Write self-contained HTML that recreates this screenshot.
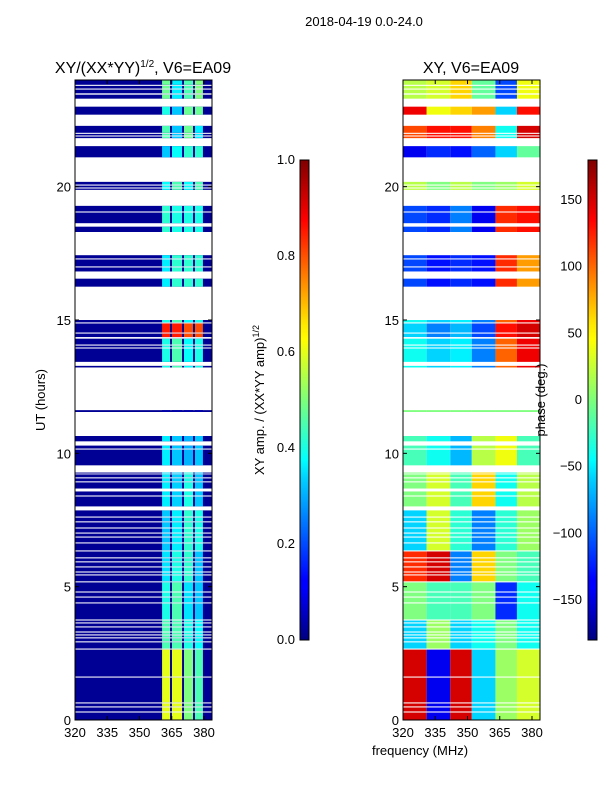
<!DOCTYPE html>
<html><head><meta charset="utf-8"><style>
body{margin:0;background:#fff;}
svg text{font-family:"Liberation Sans","DejaVu Sans",sans-serif;fill:#000;}
</style></head><body>
<svg id="fig" width="600" height="800" xmlns="http://www.w3.org/2000/svg">
<defs>
<linearGradient id="jet" x1="0" y1="1" x2="0" y2="0">
<stop offset="0" stop-color="#00007f"/><stop offset="0.11" stop-color="#0000ff"/><stop offset="0.125" stop-color="#0000ff"/>
<stop offset="0.34" stop-color="#00d4ff"/><stop offset="0.375" stop-color="#0ff" stop-opacity="1"/>
<stop offset="0.5" stop-color="#7dff7a"/><stop offset="0.625" stop-color="#ff0"/>
<stop offset="0.66" stop-color="#ffe600"/><stop offset="0.875" stop-color="#ff0000"/><stop offset="1" stop-color="#7f0000"/>
</linearGradient>
</defs>
<text x="364" y="26" font-size="13" text-anchor="middle">2018-04-19 0.0-24.0</text>
<text x="143" y="73" font-size="16" text-anchor="middle">XY/(XX*YY)<tspan font-size="10" dy="-6">1/2</tspan><tspan dy="6">, V6=EA09</tspan></text>
<text x="471" y="73" font-size="16" text-anchor="middle">XY, V6=EA09</text>
<g id="left"></g>
<g id="right"></g>
<rect x="75" y="80" width="137" height="640" fill="none" stroke="#000" stroke-width="1"/>
<rect x="403" y="80" width="137" height="640" fill="none" stroke="#000" stroke-width="1"/>
<g id="ticks"></g>
<text x="45" y="400" font-size="13" text-anchor="middle" transform="rotate(-90 45 400)">UT (hours)</text>
<text x="420" y="755" font-size="13" text-anchor="middle">frequency (MHz)</text>
<rect x="300" y="160" width="9" height="480" fill="url(#jet)" stroke="#000" stroke-width="1"/>
<rect x="588" y="160" width="9" height="480" fill="url(#jet)" stroke="#000" stroke-width="1"/>
<text x="264" y="400" font-size="13" text-anchor="middle" transform="rotate(-90 264 400)">XY amp. / (XX*YY amp)<tspan font-size="9" dy="-5">1/2</tspan></text>
<text x="545" y="400" font-size="13" text-anchor="middle" transform="rotate(-90 545 400)">phase (deg.)</text>
</svg>
<script>
const segStart=[0,0.32,0.51,0.66,1.63,2.68,2.95,3.1,3.21,3.32,3.51,3.66,3.77,4.41,4.63,4.82,5.2,5.46,5.57,5.76,5.95,6.1,6.36,6.66,6.88,7.03,7.22,7.45,7.63,8.01,8.42,8.68,8.95,9.1,9.25,9.55,10.18,10.45,11.55,13.22,13.43,13.97,14.08,14.36,14.53,14.91,16.25,16.82,17.01,17.31,18.3,18.63,19.07,19.88,19.97,20.08,21.1,21.82,21.92,22.02,22.7,23.3,23.5,23.68,23.82];
const segEnd=[0.28,0.47,0.62,1.59,2.64,2.91,3.06,3.17,3.28,3.47,3.62,3.73,4.37,4.59,4.78,5.16,5.42,5.53,5.72,5.91,6.06,6.32,6.62,6.84,6.99,7.18,7.41,7.59,7.86,8.38,8.57,8.91,9.06,9.21,9.28,10.14,10.29,10.65,11.62,13.28,13.93,14.04,14.3,14.49,14.87,15.0,16.55,16.97,17.27,17.43,18.5,19.03,19.28,19.93,20.04,20.18,21.52,21.88,21.98,22.28,23.0,23.45,23.64,23.78,24.0];
const segGroup=[0,0,0,0,0,1,1,1,1,1,1,1,2,2,2,2,3,3,3,3,3,3,4,4,4,4,4,4,4,5,5,5,5,5,5,6,6,6,7,8,8,8,8,9,9,8,10,10,10,10,11,11,11,12,12,12,13,14,14,14,15,16,16,16,16];
// left panel: amplitude in the four bright columns, per group
const ampCols=[[0.6,0.6,0.5,0.45],[0.45,0.45,0.4,0.38],[0.4,0.45,0.35,0.32],[0.35,0.4,0.42,0.32],[0.32,0.36,0.42,0.4],[0.36,0.33,0.4,0.32],[0.36,0.32,0.3,0.32],[0.04,0.04,0.04,0.04],[0.4,0.45,0.38,0.4],[0.85,0.85,0.8,0.8],[0.36,0.42,0.42,0.42],[0.42,0.4,0.4,0.4],[0.38,0.45,0.38,0.45],[0.32,0.38,0.42,0.42],[0.45,0.32,0.48,0.36],[0.4,0.32,0.48,0.48],[0.48,0.36,0.45,0.5]];
const ampLow=0.02;
const colLo=[360.5,365.1,370.7,375.8];
const colHi=[364.2,369.8,374.9,379.5];
// right panel: phase per frequency band, per group
const bandEdges=[320,331,342,352,363,373,384];
const phaseBands=[[150,-140,150,-60,10,30],[-60,10,-60,-40,0,-40],[0,-20,-20,0,-120,-40],[120,150,-90,60,0,-20],[-60,30,-30,-90,-30,10],[0,30,-20,60,-40,20],[-20,-40,-70,20,40,-20],[0,0,0,0,0,0],[-40,-60,-50,-90,100,140],[-60,-90,-70,-110,130,150],[-110,-130,-120,-130,120,80],[-110,-120,-90,-140,120,130],[20,0,20,0,10,30],[-140,-120,-130,-100,-60,-10],[110,130,130,90,-40,150],[140,40,60,80,-60,130],[20,30,60,-10,-110,40]];
const yTicks=[0,5,10,15,20];
const xTicks=[320,335,350,365,380];
const ampTicks=[0.0,0.2,0.4,0.6,0.8,1.0];
const phaseTicks=[-150,-100,-50,0,50,100,150];

const NS='http://www.w3.org/2000/svg';
function jet(v){v=Math.max(0,Math.min(1,v));
 const r=Math.min(4*v-1.5,-4*v+4.5),g=Math.min(4*v-0.5,-4*v+3.5),b=Math.min(4*v+0.5,-4*v+2.5);
 const c=x=>Math.round(255*Math.max(0,Math.min(1,x)));return `rgb(${c(r)},${c(g)},${c(b)})`;}
const yS=h=>720-h*640/24;
const xL=f=>75+(f-320)*2.15, xR=f=>403+(f-320)*2.15;
function mk(tag,attrs,parent){const e=document.createElementNS(NS,tag);for(const k in attrs)e.setAttribute(k,attrs[k]);parent.appendChild(e);return e;}
const L=document.getElementById('left'),R=document.getElementById('right'),T=document.getElementById('ticks');
for(let i=0;i<segStart.length;i++){
 const g=segGroup[i],y0=yS(segEnd[i]),hh=Math.max(1,yS(segStart[i])-y0);
 let r=mk('rect',{x:xL(320),y:y0,width:137,height:hh,fill:jet(ampLow)},L);
 
 
 for(let c=0;c<4;c++){
  let e=mk('rect',{x:xL(colLo[c]),y:y0,width:xL(colHi[c])-xL(colLo[c]),height:hh,fill:jet(ampCols[g][c])},L);
  
  
 }
 for(let b=0;b<6;b++){
  const x0=xR(bandEdges[b]),x1=Math.min(540,xR(bandEdges[b+1]));
  let e=mk('rect',{x:x0,y:y0,width:x1-x0,height:hh,fill:jet((phaseBands[g][b]+180)/360)},R);
  
  
 }
}
function txt(s,x,y,anchor,name){const t=mk('text',{x:x,y:y,'font-size':13,'text-anchor':anchor},T);t.textContent=s;
 
 }
yTicks.forEach(h=>{const y=yS(h);
 [75,403].forEach((ax,k)=>{mk('line',{x1:ax,x2:ax+4,y1:y,y2:y,stroke:'#000'},T);mk('line',{x1:ax+137,x2:ax+133,y1:y,y2:y,stroke:'#000'},T);
  txt(String(h),ax-4,y+5,'end','y-tick-label');});});
xTicks.forEach(f=>{[xL(f),xR(f)].forEach(x=>{mk('line',{x1:x,x2:x,y1:720,y2:716,stroke:'#000'},T);mk('line',{x1:x,x2:x,y1:80,y2:84,stroke:'#000'},T);
 txt(String(f),x,737,'middle','x-tick-label');});});
ampTicks.forEach(v=>{const y=640-v*480;mk('line',{x1:300,x2:303,y1:y,y2:y,stroke:'#000'},T);txt(v.toFixed(1),295,y+4,'end','amp-colorbar-tick');});
phaseTicks.forEach(v=>{const y=400-v*240/180;mk('line',{x1:588,x2:591,y1:y,y2:y,stroke:'#000'},T);txt(v<0?'\u2212'+(-v):String(v),582,y+4,'end','phase-colorbar-tick');});
</script>
</body></html>
